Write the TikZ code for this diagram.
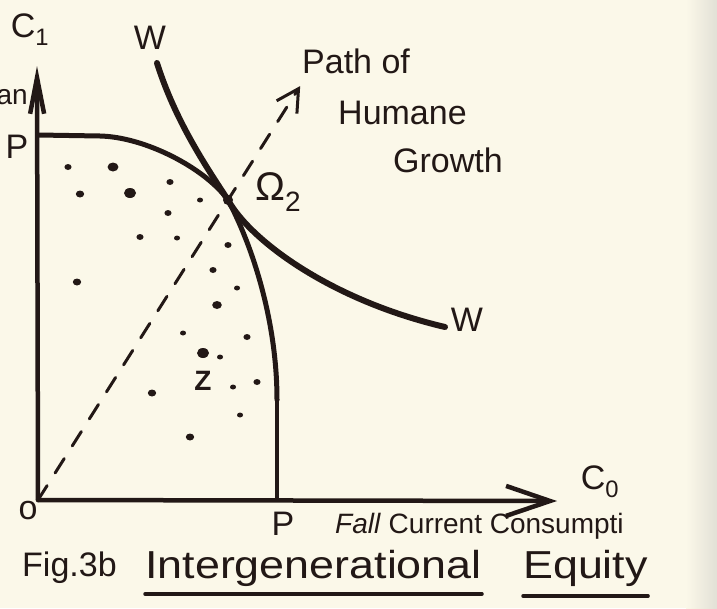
\documentclass[tikz,border=0pt]{standalone}
\usepackage{fontspec}
\setmainfont{Liberation Sans}
\usepackage{xcolor}
\usepackage{tikz}
\usetikzlibrary{calc, arrows.meta, positioning}

\definecolor{ink}{HTML}{221816}
\definecolor{paper}{HTML}{FBF8E9}
\definecolor{scan}{HTML}{E2E0D6}

\begin{document}
\begin{tikzpicture}[x=1pt, y=-1pt, >=Stealth,
    hand/.style={inner sep=0pt, text=ink, font=\fontsize{34}{38}\selectfont},
    small/.style={inner sep=0pt, text=ink, font=\fontsize{28}{32}\selectfont},
    capt/.style={inner sep=0pt, text=ink, font=\fontsize{39}{42}\selectfont},
    ax/.style={line width=4.5pt, draw=ink, line cap=round},
    curve/.style={line width=5pt, draw=ink, line cap=round, line join=round}]

    % =================================================================
    % 0. NỀN GIẤY
    % =================================================================
    \fill[paper] (0,0) rectangle (717,608);
    \shade[left color=paper, right color=scan] (686,0) rectangle (717,608);
    \useasboundingbox (0,0) rectangle (717,608);

    % =================================================================
    % 1. CÁC ĐIỂM CHÍNH
    % =================================================================
    \coordinate (O) at (38,500);
    \coordinate (Ytop) at (37,66);
    \coordinate (Xend) at (557,501);
    \coordinate (Om) at (228,200);
    \coordinate (Py) at (38,135);
    \coordinate (Px) at (277,500);
    \coordinate (Wtop) at (157,63);
    \coordinate (Wend) at (445,327);
    \coordinate (Tip) at ($(O)!1.38!(Om)$);

    % =================================================================
    % 2. HỆ TRỤC C0, C1
    % =================================================================
    \draw[ax, -{Straight Barb[length=36pt, width=14pt]}] (O) -- (Ytop);
    \draw[ax, -{Straight Barb[length=44pt, width=30pt]}] (O) -- (Xend);

    % =================================================================
    % 3. ĐƯỜNG GIỚI HẠN PP VÀ ĐƯỜNG BÀNG QUAN WW
    % =================================================================
    \draw[curve] (Py) -- (100,136) .. controls (145,137) and (205,168) .. (Om)
        .. controls (252,245) and (277,320) .. (277,400);
    \draw[curve, line width=3.8pt] (277,398) -- (Px);
    \draw[curve, line width=6pt] (Wtop) .. controls (175,120) and (205,165) .. (Om)
        .. controls (250,240) and (330,300) .. (Wend);

    % đường tăng trưởng (nét đứt)
    \draw[ink, line width=3pt, line cap=round, dash pattern=on 17pt off 15pt,
        -{Straight Barb[length=22pt, width=24pt]}] (O) -- (Tip);
    \fill[ink] (Om) circle (5pt);

    % các chấm trong miền khả thi
    \foreach \x/\y/\r in {68/167/3, 113/167/4.5, 170/182/3, 80/194/3.5, 130/193/5,
        200/200/2.5, 168/213/3, 140/237/3, 177/238/2.5, 228/245/3, 77/282/3.5,
        213/270/3, 237/288/2.5, 217/305/4, 183/333/2.5, 247/337/3, 203/353/5,
        220/357/2.5, 233/387/2.5, 257/382/3, 152/393/3.5, 240/415/2.5, 190/437/3.5}
        \fill[ink] (\x,\y) ellipse ({1.2*\r} and \r);

    % =================================================================
    % 4. NHÃN
    % =================================================================
    \node[hand] (c1) at (30,30) {C\textsubscript{1}};
    \node[hand] (c0) at (600,482) {C\textsubscript{0}};
    \node[hand] (py) at (17,147) {P};
    \node[hand] (px) at (283,524) {P};
    \node[hand] (o) at (28,511) {o};
    \node[small, anchor=east] (frag) at (28,97) {an};
    \node[hand] (wa) at (150,38) {W};
    \node[hand] (wb) at (467,320) {W};
    \node[hand, anchor=west, font=\fontsize{40}{44}\selectfont] (om) at (255,192) {Ω\textsubscript{2}};
    \node[hand, font=\fontsize{28}{30}\selectfont\bfseries] (z) at (203,381) {Z};

    \node[hand, anchor=west] (path) at (302,61) {Path of};
    \node[hand, anchor=west] (humane) at (338,113) {Humane};
    \node[hand, anchor=west] (growth) at (393,160) {Growth};

    \node[small, anchor=west] (cons) at (335,526) {\textit{Fall} Current Consumpti};

    \node[capt, anchor=base west, font=\fontsize{34}{38}\selectfont] (fig) at (22,576) {Fig.3b};
    \node[capt, anchor=base west] (inter) at (145,578) {\scalebox{1.15}[1]{Intergenerational}};
    \node[capt, anchor=base west] (eq) at (523,578) {\scalebox{1.15}[1]{Equity}};
    \draw[ink, line width=3.5pt, line cap=round]
        ($(inter.base west)+(0,16)$) -- ($(inter.base east)+(0,16)$);
    \draw[ink, line width=3.5pt, line cap=round]
        ($(eq.base west)+(0,18)$) -- ($(eq.base east)+(0,18)$);

\end{tikzpicture}
\end{document}
